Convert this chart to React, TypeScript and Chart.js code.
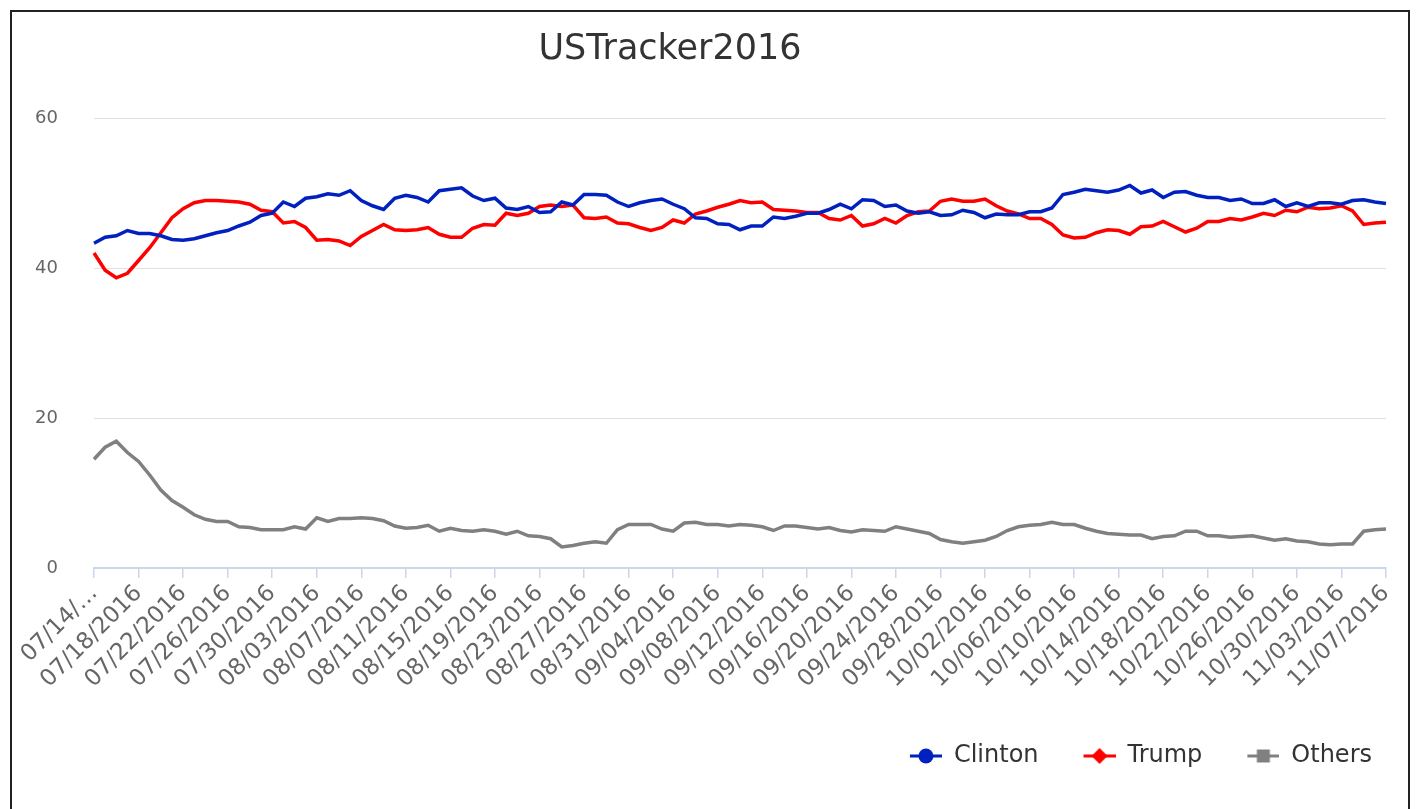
import React, { useEffect, useRef } from 'react';
import { Chart, registerables } from 'chart.js';

Chart.register(...registerables);

const FONT = '"DejaVu Sans", "Lucida Grande", sans-serif';

const START_DATE = Date.UTC(2016, 6, 14);
const DAY_COUNT = 117;
const categories: string[] = Array.from({ length: DAY_COUNT }, (_, i) => {
  const d = new Date(START_DATE + i * 86400000);
  const mm = String(d.getUTCMonth() + 1).padStart(2, '0');
  const dd = String(d.getUTCDate()).padStart(2, '0');
  return `${mm}/${dd}/${d.getUTCFullYear()}`;
});

const clinton: number[] = [
  43.3, 44.1, 44.3, 45.0, 44.6, 44.6, 44.3, 43.8, 43.7, 43.9,
  44.3, 44.7, 45.0, 45.6, 46.1, 47.0, 47.3, 48.8, 48.2, 49.3,
  49.5, 49.9, 49.7, 50.3, 49.0, 48.3, 47.8, 49.3, 49.7, 49.4,
  48.8, 50.3, 50.5, 50.7, 49.6, 49.0, 49.3, 48.0, 47.8, 48.2,
  47.4, 47.5, 48.8, 48.4, 49.8, 49.8, 49.7, 48.8, 48.2, 48.7,
  49.0, 49.2, 48.5, 47.9, 46.7, 46.6, 45.9, 45.8, 45.1, 45.6,
  45.6, 46.8, 46.6, 46.9, 47.3, 47.3, 47.8, 48.5, 47.9, 49.1,
  49.0, 48.2, 48.4, 47.6, 47.3, 47.5, 47.0, 47.1, 47.7, 47.4,
  46.7, 47.2, 47.1, 47.1, 47.5, 47.5, 48.0, 49.8, 50.1, 50.5,
  50.3, 50.1, 50.4, 51.0, 50.0, 50.4, 49.4, 50.1, 50.2, 49.7,
  49.4, 49.4, 49.0, 49.2, 48.6, 48.6, 49.1, 48.2, 48.7, 48.2,
  48.7, 48.7, 48.5, 49.0, 49.1, 48.8, 48.6,
];

const trump: number[] = [
  42.0, 39.7, 38.7, 39.3, 41.0, 42.7, 44.7, 46.7, 47.9, 48.7,
  49.0, 49.0, 48.9, 48.8, 48.5, 47.7, 47.5, 46.0, 46.2, 45.4,
  43.7, 43.8, 43.6, 43.0, 44.2, 45.0, 45.8, 45.1, 45.0, 45.1,
  45.4, 44.5, 44.1, 44.1, 45.3, 45.8, 45.7, 47.3, 47.0, 47.3,
  48.2, 48.4, 48.2, 48.4, 46.7, 46.6, 46.8, 46.0, 45.9, 45.4,
  45.0, 45.4, 46.4, 46.0, 47.2, 47.6, 48.1, 48.5, 49.0, 48.7,
  48.8, 47.8, 47.7, 47.6, 47.4, 47.4, 46.6, 46.4, 47.0, 45.6,
  45.9, 46.6, 46.0, 47.0, 47.5, 47.6, 48.9, 49.2, 48.9, 48.9,
  49.2, 48.3, 47.6, 47.2, 46.6, 46.6, 45.8, 44.4, 44.0, 44.1,
  44.7, 45.1, 45.0, 44.5, 45.5, 45.6, 46.2, 45.5, 44.8, 45.3,
  46.2, 46.2, 46.6, 46.4, 46.8, 47.3, 47.0, 47.7, 47.5, 48.1,
  47.9, 48.0, 48.3, 47.6, 45.8, 46.0, 46.1,
];

const others: number[] = [
  14.5, 16.1, 16.9, 15.4, 14.2, 12.4, 10.4, 9.0, 8.1, 7.1,
  6.5, 6.2, 6.2, 5.5, 5.4, 5.1, 5.1, 5.1, 5.5, 5.2,
  6.7, 6.2, 6.6, 6.6, 6.7, 6.6, 6.3, 5.6, 5.3, 5.4,
  5.7, 4.9, 5.3, 5.0, 4.9, 5.1, 4.9, 4.5, 4.9, 4.3,
  4.2, 3.9, 2.8, 3.0, 3.3, 3.5, 3.3, 5.1, 5.8, 5.8,
  5.8, 5.2, 4.9, 6.0, 6.1, 5.8, 5.8, 5.6, 5.8, 5.7,
  5.5, 5.0, 5.6, 5.6, 5.4, 5.2, 5.4, 5.0, 4.8, 5.1,
  5.0, 4.9, 5.5, 5.2, 4.9, 4.6, 3.8, 3.5, 3.3, 3.5,
  3.7, 4.2, 5.0, 5.5, 5.7, 5.8, 6.1, 5.8, 5.8, 5.3,
  4.9, 4.6, 4.5, 4.4, 4.4, 3.9, 4.2, 4.3, 4.9, 4.9,
  4.3, 4.3, 4.1, 4.2, 4.3, 4.0, 3.7, 3.9, 3.6, 3.5,
  3.2, 3.1, 3.2, 3.2, 4.9, 5.1, 5.2,
];

const chartTitle = 'USTracker2016';
const seriesNames = ['Clinton', 'Trump', 'Others'];
const seriesColors = ['#0020c0', '#ff0000', '#808080'];
const markerShapes = ['circle', 'diamond', 'square'];
const yTicks = [0, 20, 40, 60];

function makeIcon(color: string, shape: string): HTMLCanvasElement {
  const c = document.createElement('canvas');
  c.width = 63;
  c.height = 20;
  const ctx = c.getContext('2d')!;
  const cx = 47;
  const cy = 10;
  ctx.strokeStyle = color;
  ctx.lineWidth = 3;
  ctx.beginPath();
  ctx.moveTo(31, cy);
  ctx.lineTo(63, cy);
  ctx.stroke();
  ctx.fillStyle = color;
  ctx.beginPath();
  if (shape === 'circle') {
    ctx.arc(cx, cy, 7.5, 0, Math.PI * 2);
  } else if (shape === 'diamond') {
    ctx.moveTo(cx, cy - 8);
    ctx.lineTo(cx + 8, cy);
    ctx.lineTo(cx, cy + 8);
    ctx.lineTo(cx - 8, cy);
    ctx.closePath();
  } else {
    ctx.rect(cx - 6.5, cy - 6.5, 13, 13);
  }
  ctx.fill();
  return c;
}

const titlePlugin = {
  id: 'offsetTitle',
  afterDraw(chart: any) {
    const ctx = chart.ctx;
    ctx.save();
    ctx.font = `35px ${FONT}`;
    ctx.fillStyle = '#333333';
    ctx.textAlign = 'center';
    ctx.textBaseline = 'alphabetic';
    ctx.fillText(chartTitle, 658, 47);
    ctx.restore();
  },
};

export default function App() {
  const canvasRef = useRef<HTMLCanvasElement | null>(null);

  useEffect(() => {
    if (!canvasRef.current) return;
    const icons = seriesColors.map((c, i) => makeIcon(c, markerShapes[i]));
    const values = [clinton, trump, others];
    const chart = new Chart(canvasRef.current, {
      type: 'line',
      data: {
        labels: categories,
        datasets: seriesNames.map((name, i) => ({
          label: name,
          data: values[i],
          borderColor: seriesColors[i],
          backgroundColor: seriesColors[i],
          borderWidth: 3.5,
          pointRadius: 0,
          pointHoverRadius: 0,
          tension: 0,
          fill: false,
        })),
      },
      plugins: [titlePlugin],
      options: {
        responsive: false,
        animation: false,
        layout: { padding: { left: 0, right: 22, top: 106, bottom: 34 } },
        plugins: {
          title: { display: false },
          legend: {
            position: 'bottom',
            align: 'end',
            labels: {
              usePointStyle: true,
              pointStyleWidth: 63,
              padding: 14,
              color: '#333333',
              font: { family: FONT, size: 24 },
              generateLabels: (ch: any) =>
                ch.data.datasets.map((ds: any, i: number) => ({
                  text: ds.label,
                  pointStyle: icons[i],
                  fillStyle: ds.borderColor,
                  strokeStyle: ds.borderColor,
                  fontColor: '#333333',
                  lineWidth: 0,
                  hidden: false,
                  datasetIndex: i,
                })),
            },
          },
          tooltip: { enabled: false },
        },
        scales: {
          x: {
            grid: {
              drawOnChartArea: false,
              drawTicks: true,
              tickLength: 10,
              lineWidth: 1.5,
              color: (ctx: any) => (ctx.index % 4 === 0 ? '#ccd6eb' : 'rgba(0,0,0,0)'),
            },
            border: { color: '#ccd6eb', width: 2 },
            ticks: {
              autoSkip: false,
              maxRotation: 45,
              minRotation: 45,
              color: '#666666',
              font: { family: FONT, size: 23 },
              padding: 2,
              callback: (_v: any, i: number) =>
                i % 4 === 0 ? (i === 0 ? '07/14/…' : categories[i]) : '',
            },
            afterFit: (s: any) => {
              s.height = 162;
            },
          },
          y: {
            min: yTicks[0],
            max: yTicks[yTicks.length - 1],
            afterBuildTicks: (s: any) => {
              s.ticks = yTicks.map((v) => ({ value: v }));
            },
            ticks: {
              color: '#666666',
              font: { family: FONT, size: 18 },
              padding: 36,
            },
            grid: { color: '#e0e0e0', drawTicks: false, lineWidth: 1 },
            border: { display: false },
            afterFit: (s: any) => {
              s.width = 82;
            },
          },
        },
      },
    });
    return () => chart.destroy();
  }, []);

  return (
    <div
      style={{
        margin: 2,
        border: '2px solid #222',
        width: 1396,
        height: 800,
        background: '#fff',
      }}
    >
      <canvas ref={canvasRef} width={1396} height={800} style={{ display: 'block' }} />
    </div>
  );
}
